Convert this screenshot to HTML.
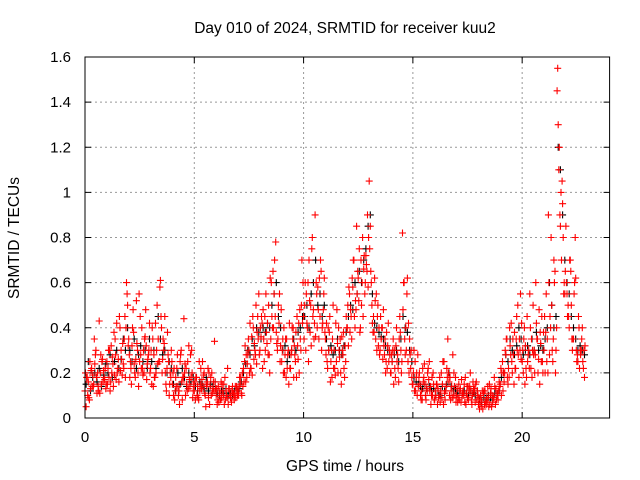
<!DOCTYPE html>
<html><head><meta charset="utf-8"><style>
html,body{margin:0;padding:0;background:#fff;}
svg{display:block;font-family:"Liberation Sans",sans-serif;}
</style></head><body>
<svg id="chart" width="640" height="480" viewBox="0 0 640 480">
<text x="345" y="33" font-size="15.5" text-anchor="middle">Day 010 of 2024, SRMTID for receiver kuu2</text>
<text x="345" y="471" font-size="15.5" text-anchor="middle">GPS time / hours</text>
<text transform="translate(19,238) rotate(-90)" font-size="15.5" text-anchor="middle">SRMTID / TECUs</text>
<g id="grid"></g>
<g id="ticks"></g>
<g id="black-series"></g>
<g id="red-series"></g>
<rect x="85" y="57" width="524.6" height="361" fill="none" stroke="#000" stroke-width="1"/>
</svg>
<script>
const xTicks=[0,5,10,15,20];
const yTicks=[0,0.2,0.4,0.6,0.8,1,1.2,1.4,1.6];
const yTickLabels=["0","0.2","0.4","0.6","0.8","1","1.2","1.4","1.6"];
const timeStep=0.1;
const redOffsets=[0,0.025,0.05,0.075];
const redA=[.12,.18,.08,.22,.15,.30,.14,.20,.26,.17,
.25,.18,.32,.14,.28,.22,.40,.19,.35,.60,
.35,.22,.48,.18,.30,.25,.40,.20,.32,.28,
.22,.35,.18,.50,.25,.40,.30,.15,.28,.20,
.15,.08,.22,.12,.30,.18,.10,.25,.14,.20,
.12,.18,.08,.22,.14,.10,.16,.06,.20,.12,
.10,.14,.08,.12,.18,.09,.13,.07,.11,.09,
.12,.15,.20,.25,.18,.30,.22,.40,.28,.45,
.30,.42,.25,.38,.50,.35,.65,.45,.30,.55,
.25,.40,.18,.30,.22,.35,.28,.45,.20,.50,
.45,.30,.60,.38,.80,.42,.55,.35,.65,.48,
.35,.22,.45,.18,.30,.25,.40,.20,.28,.32,
.40,.55,.35,.70,.48,.62,.40,.80,.55,.65,
1.05,.60,.45,.35,.50,.30,.40,.28,.38,.25,
.20,.35,.18,.28,.45,.25,.60,.30,.42,.22,
.15,.25,.10,.20,.12,.18,.08,.22,.14,.10,
.08,.15,.10,.20,.06,.12,.35,.18,.09,.14,
.10,.15,.07,.12,.18,.09,.14,.06,.11,.16,
.06,.10,.04,.12,.07,.15,.05,.09,.13,.08,
.15,.25,.20,.35,.18,.42,.28,.22,.50,.30,
.25,.40,.18,.30,.22,.50,.28,.35,.15,.45,
.30,.55,.90,.40,.25,.65,1.45,1.20,.70,.55,
.85,.50,.70,.30,.60,.25,.40,.30,.22];
const redB=[.20,.10,.25,.14,.35,.18,.12,.28,.16,.22,
.15,.30,.20,.38,.17,.26,.21,.33,.45,.55,
.28,.15,.38,.26,.20,.45,.22,.35,.17,.30,
.30,.14,.42,.24,.58,.20,.33,.12,.25,.18,
.20,.12,.28,.06,.16,.44,.22,.13,.28,.09,
.16,.10,.25,.13,.19,.05,.22,.14,.11,.34,
.13,.07,.16,.10,.08,.22,.10,.12,.08,.14,
.10,.18,.14,.32,.24,.20,.36,.26,.50,.35,
.40,.22,.45,.33,.28,.60,.40,.78,.35,.25,
.30,.20,.35,.15,.28,.40,.25,.32,.48,.70,
.35,.55,.25,.50,.45,.90,.40,.62,.30,.55,
.28,.40,.16,.35,.22,.48,.30,.15,.38,.25,
.50,.38,.62,.45,.85,.52,.70,.45,.60,.90,
.75,.50,.38,.55,.32,.45,.26,.35,.22,.30,
.28,.15,.32,.22,.38,.82,.35,.55,.20,.30,
.20,.12,.28,.15,.08,.24,.13,.17,.06,.20,
.12,.06,.18,.09,.25,.14,.20,.08,.28,.10,
.13,.08,.17,.10,.06,.14,.20,.10,.13,.08,
.09,.05,.11,.07,.14,.06,.10,.18,.08,.12,
.22,.12,.30,.18,.40,.25,.15,.35,.28,.55,
.30,.15,.45,.22,.35,.28,.60,.20,.38,.25,
.45,.25,.60,.80,.35,.20,1.55,.90,1.05,.60,
.60,.45,.65,.35,.80,.28,.22,.35,.30];
const redC=[.05,.16,.13,.19,.24,.11,.43,.15,.21,.13,
.22,.12,.27,.19,.42,.16,.30,.24,.18,.50,
.18,.32,.24,.52,.14,.28,.19,.36,.24,.42,
.15,.28,.20,.35,.61,.26,.45,.22,.10,.30,
.10,.18,.14,.25,.08,.20,.15,.32,.18,.12,
.08,.14,.12,.17,.20,.15,.09,.18,.13,.16,
.06,.11,.09,.15,.12,.06,.09,.14,.10,.12,
.14,.11,.22,.16,.28,.42,.19,.33,.24,.55,
.36,.48,.30,.42,.20,.45,.55,.38,.50,.32,
.35,.28,.22,.42,.30,.18,.38,.26,.35,.42,
.50,.42,.70,.32,.48,.36,.58,.45,.40,.62,
.42,.30,.25,.50,.19,.33,.27,.36,.22,.45,
.32,.48,.58,.40,.55,.75,.50,.66,.72,.58,
.85,.42,.62,.30,.40,.35,.48,.20,.32,.28,
.25,.30,.40,.16,.30,.48,.28,.62,.35,.18,
.30,.18,.14,.10,.22,.15,.12,.25,.10,.15,
.10,.13,.07,.15,.11,.22,.16,.12,.10,.18,
.07,.12,.10,.15,.11,.08,.12,.16,.07,.12,
.04,.08,.12,.06,.09,.11,.07,.14,.10,.16,
.10,.20,.28,.15,.32,.20,.38,.45,.18,.26,
.20,.32,.25,.55,.18,.30,.42,.26,.33,.20,
.20,.35,.28,.50,.70,.30,1.30,.85,.95,.55,
.55,.40,.50,.35,.62,.25,.30,.40,.18];
const redD=[.18,.09,.21,.14,.28,.20,.11,.25,.18,.15,
.30,.16,.24,.35,.20,.45,.26,.22,.40,.32,
.25,.40,.20,.33,.55,.22,.30,.48,.26,.20,
.40,.18,.30,.25,.45,.35,.20,.38,.15,.25,
.22,.14,.10,.28,.18,.24,.12,.17,.30,.15,
.18,.09,.15,.25,.11,.14,.20,.10,.16,.13,
.08,.12,.15,.06,.10,.13,.09,.11,.14,.10,
.18,.10,.16,.28,.35,.22,.45,.30,.38,.28,
.45,.35,.55,.28,.62,.40,.70,.33,.42,.48,
.20,.35,.28,.22,.40,.32,.18,.42,.30,.60,
.60,.40,.52,.75,.35,.60,.48,.70,.42,.38,
.25,.38,.30,.22,.42,.20,.35,.30,.18,.40,
.58,.45,.70,.52,.65,.38,.60,.72,.68,.80,
.65,.38,.52,.45,.28,.40,.32,.25,.42,.20,
.30,.22,.25,.35,.20,.60,.40,.25,.28,.15,
.12,.20,.18,.08,.16,.10,.20,.12,.18,.08,
.15,.09,.12,.25,.08,.18,.10,.14,.20,.07,
.09,.13,.11,.07,.14,.12,.08,.13,.15,.10,
.07,.12,.06,.09,.05,.13,.09,.06,.11,.14,
.20,.16,.35,.22,.28,.35,.22,.30,.35,.42,
.35,.22,.28,.40,.30,.20,.35,.48,.25,.38,
.38,.20,.45,.30,.60,.40,1.10,1.00,.80,.65,
.45,.70,.35,.55,.30,.45,.28,.25,.32];
const blackK=[.15,.25,.12,.18,.20,.16,.22,.14,.19,.24,
.20,.28,.18,.25,.30,.22,.26,.35,.30,.40,
.30,.25,.35,.22,.28,.32,.25,.30,.22,.35,
.25,.30,.22,.45,.35,.28,.30,.20,.25,.22,
.15,.12,.20,.15,.22,.18,.14,.20,.16,.18,
.14,.12,.16,.15,.13,.18,.12,.15,.14,.16,
.11,.10,.12,.11,.13,.10,.11,.10,.12,.13,
.13,.16,.20,.24,.30,.28,.35,.32,.40,.38,
.35,.40,.38,.42,.40,.50,.55,.60,.45,.40,
.30,.32,.25,.28,.30,.35,.30,.38,.40,.45,
.45,.50,.40,.55,.60,.70,.50,.55,.45,.50,
.35,.30,.32,.28,.30,.35,.30,.28,.32,.38,
.45,.50,.48,.60,.55,.65,.60,.70,.75,.85,
.90,.55,.42,.40,.38,.36,.35,.32,.30,.28,
.25,.28,.30,.25,.35,.45,.40,.38,.30,.25,
.18,.16,.15,.14,.13,.15,.12,.14,.12,.13,
.10,.12,.10,.14,.12,.15,.20,.14,.12,.13,
.11,.12,.10,.12,.11,.10,.12,.11,.10,.12,
.08,.07,.09,.08,.10,.09,.08,.11,.10,.12,
.18,.20,.28,.25,.35,.30,.28,.32,.40,.35,
.28,.30,.32,.28,.35,.30,.38,.30,.32,.30,
.35,.40,.60,.50,.40,.45,1.20,1.10,.90,.70,
.60,.55,.45,.40,.35,.30,.32,.30,.28];
const blackOffset=0.05;

const X0=85,X1=609.6,Y0=418,Y1=57,XMAX=24,YMAX=1.6;
function sx(t){return X0+(t/XMAX)*(X1-X0);}
function sy(v){return Y0-(v/YMAX)*(Y0-Y1);}
const NS="http://www.w3.org/2000/svg";
const grid=document.getElementById('grid'),ticks=document.getElementById('ticks');
function mk(tag,attrs,parent){const e=document.createElementNS(NS,tag);for(const k in attrs)e.setAttribute(k,attrs[k]);parent.appendChild(e);return e;}
xTicks.forEach(t=>{
  const x=sx(t);
  if(t>0){const g=mk('line',{x1:x,x2:x,y1:Y1,y2:Y0,stroke:'#999','stroke-dasharray':'2,3'},grid);
  
  }
  mk('line',{x1:x,x2:x,y1:Y0,y2:Y0-6,stroke:'#000'},ticks);
  mk('line',{x1:x,x2:x,y1:Y1,y2:Y1+6,stroke:'#000'},ticks);
  const lb=mk('text',{x:x,y:Y0+24,'font-size':15,'text-anchor':'middle'},ticks);
  lb.textContent=String(t);
  
  
});
yTicks.forEach((v,i)=>{
  const y=sy(v);
  if(v>0&&v<YMAX){const g=mk('line',{x1:X0,x2:X1,y1:y,y2:y,stroke:'#999','stroke-dasharray':'2,3'},grid);
  
  }
  mk('line',{x1:X0,x2:X0+6,y1:y,y2:y,stroke:'#000'},ticks);
  mk('line',{x1:X1,x2:X1-6,y1:y,y2:y,stroke:'#000'},ticks);
  const lb=mk('text',{x:X0-14,y:y+5,'font-size':15,'text-anchor':'end'},ticks);
  lb.textContent=yTickLabels[i];
  
  
});
function plus(arr,off,color,g,name){
  let d='';
  arr.forEach((v,i)=>{const x=sx(i*timeStep+off),y=sy(v);d+=`M${(x-3.5).toFixed(1)} ${y.toFixed(1)}h7M${x.toFixed(1)} ${(y-3.5).toFixed(1)}v7`;});
  const p=mk('path',{d:d,stroke:color,'stroke-width':1.1,fill:'none'},g);
  
  
}
plus(blackK,blackOffset,'#000',document.getElementById('black-series'),'black-points');
const rg=document.getElementById('red-series');
plus(redA,redOffsets[0],'#f00',rg,'red-points-a');
plus(redB,redOffsets[1],'#f00',rg,'red-points-b');
plus(redC,redOffsets[2],'#f00',rg,'red-points-c');
plus(redD,redOffsets[3],'#f00',rg,'red-points-d');
</script>
</body></html>
